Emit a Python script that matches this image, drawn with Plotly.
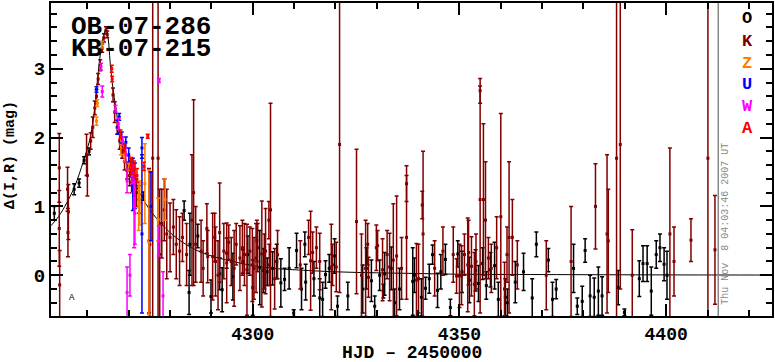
import plotly.graph_objects as go

# ---------------- data (HJD-2450000, Delta mag, error) ----------------
O_t = [4252.0, 4256.8, 4258.0, 4259.2, 4260.4, 4270.5, 4273.5, 4283.4, 4284.8, 4284.6, 4286.7, 4289.9,
       4292.0, 4292.6, 4293.7, 4295.2, 4297.6, 4298.8, 4300.0, 4301.7, 4302.6, 4304.8, 4306.8, 4307.7,
       4309.9, 4310.6, 4312.6, 4312.8, 4316.2, 4316.9, 4317.6, 4319.8, 4320.5, 4326.6, 4328.7, 4329.5,
       4330.7, 4331.6, 4331.9, 4333.5, 4334.3, 4338.7, 4339.1, 4340.8, 4341.8, 4342.7, 4343.5, 4344.7,
       4346.6, 4347.8, 4349.6, 4350.6, 4352.4, 4353.9, 4354.6, 4355.6, 4356.5, 4357.5, 4358.5, 4359.4,
       4361.1, 4361.6, 4365.5, 4367.6, 4368.6, 4371.5, 4372.5, 4373.4, 4377.6, 4378.5, 4379.7, 4380.4,
       4381.6, 4382.6, 4383.6, 4384.5, 4388.4, 4389.9, 4393.5, 4394.4, 4395.4, 4396.4, 4397.6, 4398.5,
       4399.5, 4400.2, 4303.5, 4305.8, 4308.8, 4311.8, 4314.8, 4318.5, 4323.0, 4327.5, 4335.5, 4345.5,
       4363.5]
O_mag = [0.90, 1.25, 1.34, 1.67, 1.80, 1.50, 1.15, 0.94, 0.45, -0.25, 0.57, -0.31,
         0.02, -0.21, 0.32, -0.02, 0.20, 0.30, -0.18, 0.11, 0.07, 0.10, -0.11, -0.06,
         -0.55, 0.36, 0.45, -0.10, -0.33, -0.35, 0.01, 0.28, -0.45, -0.20, -0.08, -0.45,
         0.00, -0.23, 0.02, 0.10, -0.40, -0.09, 0.00, -0.32, -0.19, -0.05, 0.30, -0.22,
         0.23, -0.47, 0.31, 0.05, -0.07, 0.07, -0.12, 0.17, -0.15, 0.08, 0.14, -0.35,
         -0.32, -0.40, 0.05, -0.33, 0.45, 0.22, -0.35, -0.20, 0.10, -0.45, -0.38, 0.36,
         -0.30, -0.32, -0.23, -0.30, -0.18, -0.54, -0.05, 0.17, 0.17, -0.23, 0.30, 0.40,
         0.16, 0.00, 0.05, 0.20, 0.10, -0.20, -0.05, 0.10, -0.30, 0.10, -0.20, 0.05,
         -0.10]
O_err = [0.10, 0.08, 0.06, 0.05, 0.05, 0.05, 0.06, 0.14, 0.45, 0.32, 0.17, 0.24,
         0.23, 0.32, 0.22, 0.34, 0.17, 0.27, 0.40, 0.54, 0.32, 0.24, 0.35, 0.16,
         0.05, 0.25, 0.18, 0.26, 0.28, 0.25, 0.20, 0.25, 0.15, 0.35, 0.30, 0.15,
         0.22, 0.10, 0.31, 0.31, 0.20, 0.49, 0.25, 0.27, 0.16, 0.21, 0.14, 0.25,
         0.22, 0.12, 0.19, 0.30, 0.33, 0.30, 0.26, 0.23, 0.20, 0.25, 0.34, 0.25,
         0.27, 0.20, 0.27, 0.28, 0.18, 0.17, 0.25, 0.14, 0.35, 0.12, 0.22, 0.17,
         0.30, 0.28, 0.35, 0.28, 0.25, 0.05, 0.26, 0.26, 0.26, 0.35, 0.20, 0.20,
         0.24, 0.35, 0.20, 0.25, 0.30, 0.30, 0.25, 0.20, 0.20, 0.30, 0.30, 0.25,
         0.30]

K_t = [4253.2, 4253.2, 4253.3, 4255.2, 4255.4, 4255.3, 4259.8, 4260.0, 4260.8, 4261.3, 4261.8, 4262.2,
       4262.6, 4263.1, 4263.6, 4264.0, 4264.5, 4264.8, 4266.2, 4266.6, 4267.2, 4267.8, 4268.4, 4269.0,
       4269.6, 4270.2, 4270.7, 4271.3, 4271.9, 4272.5, 4274.9, 4275.1, 4275.8, 4277.1, 4277.5, 4278.0,
       4278.6, 4279.2, 4280.0, 4280.8, 4281.5, 4282.3, 4285.3, 4285.7, 4287.5, 4288.9, 4289.1, 4290.3,
       4291.0, 4292.0, 4293.7, 4294.2, 4295.5, 4296.9, 4297.5, 4298.6, 4299.9, 4300.8, 4301.2, 4302.2,
       4303.1, 4303.9, 4304.0, 4304.3, 4305.3, 4314.0, 4314.5, 4315.4, 4316.2, 4319.0, 4319.3, 4320.2,
       4321.0, 4325.1, 4326.3, 4327.3, 4328.0, 4329.9, 4330.2, 4331.4, 4333.1, 4334.0, 4334.8, 4337.2,
       4337.2, 4339.6, 4340.1, 4341.0, 4341.2, 4349.3, 4350.0, 4350.5, 4351.2, 4352.0, 4352.2, 4352.9,
       4353.6, 4355.0, 4355.0, 4355.8, 4356.3, 4357.7, 4360.0, 4360.9, 4362.0, 4362.8, 4371.0, 4377.0,
       4382.9, 4385.7, 4386.0, 4388.0, 4388.9, 4391.8, 4400.9, 4401.9, 4406.0, 4410.1, 4411.8,
       4283.0, 4284.0, 4286.2, 4288.0, 4290.8, 4291.6, 4293.0, 4294.8, 4296.0, 4298.0, 4299.3, 4300.3,
       4301.0, 4302.8, 4306.0, 4311.5, 4313.5, 4327.8, 4332.5, 4336.0, 4344.0, 4346.0, 4348.5, 4354.0,
       4357.0, 4359.0, 4361.5, 4364.0]
K_mag = [1.56, 0.68, -0.14, 1.25, 0.92, 0.62, 1.75, 1.45, 1.95, 2.15, 2.43, 2.60,
         2.85, 3.05, 3.30, 3.45, 3.56, 3.50, 2.62, 2.37, 2.15, 1.95, 1.80, 1.65,
         1.52, 1.45, 1.35, 1.30, 1.20, 1.10, 0.50, 0.45, 1.70, 1.70, 0.30, 0.75,
         0.95, 0.60, 0.55, 0.70, 0.45, 0.35, 0.80, 1.20, 0.35, 0.68, 0.27, 0.27,
         0.20, 0.62, 0.18, 0.48, 0.10, 0.25, 0.40, 0.08, 0.15, 0.25, 0.40, 0.31,
         0.35, 0.80, 0.15, 0.95, -0.05, 0.21, 0.33, 0.40, 0.20, 0.12, 0.15, 0.12,
         1.90, 0.78, 0.00, 0.10, -0.03, 0.40, 0.43, 0.08, 0.12, 0.22, 0.28, 1.33,
         0.55, -0.07, -0.05, 1.02, 0.60, -0.01, -0.01, 0.00, 0.30, 0.15, 0.33, 0.13,
         -0.13, 2.68, 1.10, 1.10, 0.80, 0.10, 0.85, -0.20, 0.55, 0.55, 0.00, 0.20,
         1.00, 0.60, 0.50, 1.70, 1.90, 0.00, 0.60, 0.20, 0.51, 1.70, 0.37,
         0.55, 0.30, 0.45, 0.10, 0.55, 0.00, 0.35, 0.20, 0.45, 0.30, 0.35, 0.10,
         0.50, 0.20, 0.30, 0.15, 0.55, 0.45, 0.30, 0.10, 0.10, 0.35, 0.30, 0.20,
         0.25, 0.40, 0.30, 0.15]
K_err = [0.50, 0.55, 0.50, 0.32, 0.40, 0.35, 0.30, 0.30, 0.12, 0.15, 0.10, 0.10,
         0.08, 0.08, 0.06, 0.06, 0.05, 0.05, 0.10, 0.15, 0.10, 0.12, 0.10, 0.12,
         0.12, 0.15, 0.15, 0.15, 0.20, 0.20, 1.05, 1.05, 2.35, 2.35, 0.95, 0.50,
         0.45, 0.65, 0.50, 0.40, 0.50, 0.50, 0.95, 1.35, 0.45, 0.36, 0.38, 0.63,
         0.50, 0.72, 0.58, 0.25, 0.55, 0.47, 0.40, 0.66, 0.53, 0.50, 0.35, 0.77,
         0.62, 0.27, 0.30, 1.55, 0.44, 0.72, 0.30, 0.30, 0.41, 0.62, 0.30, 0.36,
         2.15, 1.05, 0.60, 0.70, 0.29, 0.33, 0.22, 0.45, 0.49, 0.82, 0.87, 0.26,
         0.90, 0.53, 0.50, 0.20, 1.20, 0.25, 0.46, 0.43, 0.30, 0.68, 0.47, 0.43,
         0.46, 0.18, 1.65, 1.10, 0.85, 0.35, 1.50, 0.39, 1.10, 0.55, 0.50, 0.80,
         0.62, 1.15, 0.75, 2.40, 2.10, 0.66, 1.25, 0.50, 0.31, 2.40, 0.79,
         0.35, 0.45, 0.55, 0.40, 0.35, 0.50, 0.40, 0.35, 0.30, 0.45, 0.35, 0.45,
         0.30, 0.40, 0.35, 0.35, 0.25, 0.30, 0.35, 0.45, 0.40, 0.35, 0.40, 0.40,
         0.30, 0.45, 0.40, 0.35]

Z_t = [4262.2, 4262.4, 4263.5, 4268.1, 4269.0, 4270.0, 4271.0, 4272.4, 4272.7, 4273.9, 4274.9, 4277.1, 4278.8]
Z_mag = [2.24, 2.50, 3.35, 1.90, 1.75, 1.63, 1.35, 1.00, 1.05, 1.33, 0.48, 0.81, 1.10]
Z_err = [0.06, 0.05, 0.05, 0.15, 0.10, 0.10, 0.15, 0.35, 0.32, 0.58, 1.05, 0.31, 0.30]

U_t = [4262.2, 4267.4, 4267.7, 4268.3, 4269.3, 4270.0, 4270.6, 4271.0, 4271.5, 4273.2, 4273.2, 4275.4]
U_mag = [2.70, 2.15, 2.30, 2.00, 1.93, 1.75, 1.55, 1.32, 1.30, 1.85, 0.60, 1.00]
U_err = [0.04, 0.10, 0.05, 0.08, 0.08, 0.10, 0.12, 0.38, 0.33, 0.15, 1.15, 0.50]

W_t = [4263.3, 4263.6, 4266.8, 4267.5, 4268.5, 4269.3, 4269.6, 4269.6, 4270.3, 4270.8, 4271.3, 4271.5,
       4277.3, 4277.3, 4278.3]
W_mag = [3.03, 2.67, 2.42, 2.20, 1.95, 1.75, 1.37, -0.25, 0.00, 1.45, 1.00, 0.90, 2.83, 0.50, -0.30]
W_err = [0.05, 0.08, 0.05, 0.08, 0.06, 0.10, 0.17, 0.37, 0.30, 0.12, 0.60, 0.45, 0.03, 0.22, 0.35]

A_t = [4265.9, 4266.0, 4268.0, 4269.0, 4270.5, 4270.7, 4271.3, 4272.0, 4273.7, 4274.6]
A_mag = [3.00, 2.85, 2.05, 1.85, 1.58, 1.61, 1.54, 1.45, 1.58, 2.02]
A_err = [0.05, 0.04, 0.06, 0.06, 0.12, 0.10, 0.12, 0.10, 0.06, 0.03]

# model light curve
model_t = [4251.2, 4253.0, 4255.0, 4257.0, 4259.0, 4260.5, 4261.5, 4262.3, 4263.0, 4263.8, 4264.5,
           4265.0, 4265.5, 4266.0, 4266.7, 4267.9, 4269.0, 4270.0, 4271.0, 4272.2, 4274.0, 4276.0,
           4278.0, 4280.0, 4283.0, 4286.5, 4290.0, 4294.4, 4300.0, 4305.0, 4310.0, 4320.0, 4330.0,
           4340.0, 4350.0, 4370.0, 4400.0, 4426.0]
model_mag = [0.72, 0.85, 1.05, 1.30, 1.65, 1.95, 2.30, 2.75, 3.15, 3.45, 3.58,
             3.45, 3.10, 2.80, 2.50, 2.05, 1.75, 1.55, 1.40, 1.25, 1.05, 0.88,
             0.74, 0.62, 0.48, 0.36, 0.28, 0.21, 0.14, 0.10, 0.08, 0.05, 0.035,
             0.025, 0.015, 0.010, 0.005, 0.003]

# off-scale (below the plot) points, marked with asterisks
low_t = [4273.4, 4279.2, 4287.0, 4287.8, 4300.2, 4316.2, 4326.1, 4343.2, 4358.0, 4358.9, 4359.7,
         4374.9, 4377.1, 4380.9, 4381.9, 4385.7, 4387.9, 4397.8, 4401.0]
low_obs = ["W", "K", "O", "K", "K", "K", "K", "K", "K", "K", "K",
           "K", "K", "K", "K", "K", "K", "K", "K"]

obs_names = ["O", "K", "Z", "U", "W", "A"]
obs_colors = {"O": "#000000", "K": "#800000", "Z": "#ff8000", "U": "#0000ff", "W": "#ff00ff", "A": "#ff0000"}
series = {"O": (O_t, O_mag, O_err), "K": (K_t, K_mag, K_err), "Z": (Z_t, Z_mag, Z_err),
          "U": (U_t, U_mag, U_err), "W": (W_t, W_mag, W_err), "A": (A_t, A_mag, A_err)}

title_lines = ["OB-07-286", "KB-07-215"]
stamp = "Thu Nov\u00a0\u00a08 04:03:46 2007 UT"
today_hjd = 4412.6
x_range = [4251.2, 4425.6]
y_range = [-0.592, 3.955]

# ---------------- figure ----------------
FONT = "Liberation Mono"
fig = go.Figure()

fig.add_trace(go.Scatter(x=model_t, y=model_mag, mode="lines", line=dict(color="black", width=1),
                         line_shape="spline", showlegend=False, hoverinfo="skip"))

for name in obs_names:
    t, m, e = series[name]
    c = obs_colors[name]
    fig.add_trace(go.Scatter(
        x=t, y=m, mode="markers", name=name, showlegend=False,
        marker=dict(symbol="square", size=3, color=c, line=dict(width=0)),
        error_y=dict(type="data", array=e, symmetric=True, color=c, thickness=1.5, width=2),
    ))

for name in obs_names:
    xs = [t for t, o in zip(low_t, low_obs) if o == name]
    if not xs:
        continue
    fig.add_trace(go.Scatter(
        x=xs, y=[-0.68] * len(xs), mode="markers", showlegend=False, cliponaxis=False,
        marker=dict(symbol="asterisk-open", size=6, line=dict(color=obs_colors[name], width=1.2)),
    ))

fig.add_shape(type="line", x0=today_hjd, x1=today_hjd, y0=0, y1=1, xref="x", yref="paper",
              line=dict(color="#888888", width=1.5))

L, R, T, B = 51, 2, 1, 46
W_, H_ = 775, 362
pw, ph = W_ - L - R, H_ - T - B


def px(x):
    return (x - L) / pw


def py(y):
    return 1 - (y - T) / ph


ann = []
ann.append(dict(text=title_lines[0], x=px(69), y=py(25), xanchor="left", yanchor="middle",
                font=dict(family=FONT, size=26, color="black", weight="bold")))
ann.append(dict(text=title_lines[1], x=px(69), y=py(47), xanchor="left", yanchor="middle",
                font=dict(family=FONT, size=26, color="black", weight="bold")))
leg_y = [17, 40, 62, 83, 105, 127]
for name, yy in zip(obs_names, leg_y):
    ann.append(dict(text=name, x=px(748), y=py(yy), xanchor="center", yanchor="middle",
                    font=dict(family=FONT, size=17, color=obs_colors[name], weight="bold")))
ann.append(dict(text=stamp, x=px(727), y=py(223), xanchor="center", yanchor="middle", textangle=-90,
                font=dict(family=FONT, size=10, color="#888888")))
ann.append(dict(text="A", x=px(72), y=py(298), xanchor="center", yanchor="middle",
                font=dict(family=FONT, size=9, color="black")))
ann.append(dict(text="Δ(I,R) (mag)", x=px(10), y=py(154), xanchor="center", yanchor="middle", textangle=-90,
                font=dict(family=FONT, size=15, color="black", weight="bold")))
ann.append(dict(text="HJD – 2450000", x=px(413), y=py(353), xanchor="center", yanchor="middle",
                font=dict(family=FONT, size=18, color="black", weight="bold")))
for a in ann:
    a.update(xref="paper", yref="paper", showarrow=False)

fig.update_layout(
    width=W_, height=H_, margin=dict(l=L, r=R, t=T, b=B),
    paper_bgcolor="white", plot_bgcolor="white", showlegend=False,
    annotations=ann,
    xaxis=dict(range=x_range, showgrid=False, zeroline=False, showline=True, linecolor="black", linewidth=2,
               mirror="ticks", ticks="inside", ticklen=12, tickwidth=1.5, tickcolor="black",
               tickmode="linear", tick0=4300, dtick=50, ticklabelstandoff=0,
               minor=dict(ticks="inside", ticklen=6, tickwidth=1.5, tickcolor="black", dtick=10, tick0=4300,
                          showgrid=False),
               tickfont=dict(family=FONT, size=18, color="black", weight="bold")),
    yaxis=dict(range=y_range, showgrid=False, zeroline=False, showline=True, linecolor="black", linewidth=2,
               mirror="ticks", ticks="inside", ticklen=12, tickwidth=1.5, tickcolor="black",
               tickmode="linear", tick0=0, dtick=1,
               minor=dict(ticks="inside", ticklen=6, tickwidth=1.5, tickcolor="black", dtick=0.2, tick0=0,
                          showgrid=False),
               tickfont=dict(family=FONT, size=19, color="black", weight="bold")),
)

fig.write_html("out.html", config={"displayModeBar": False},
               post_script="document.body.style.margin='0';document.body.style.padding='0';")
